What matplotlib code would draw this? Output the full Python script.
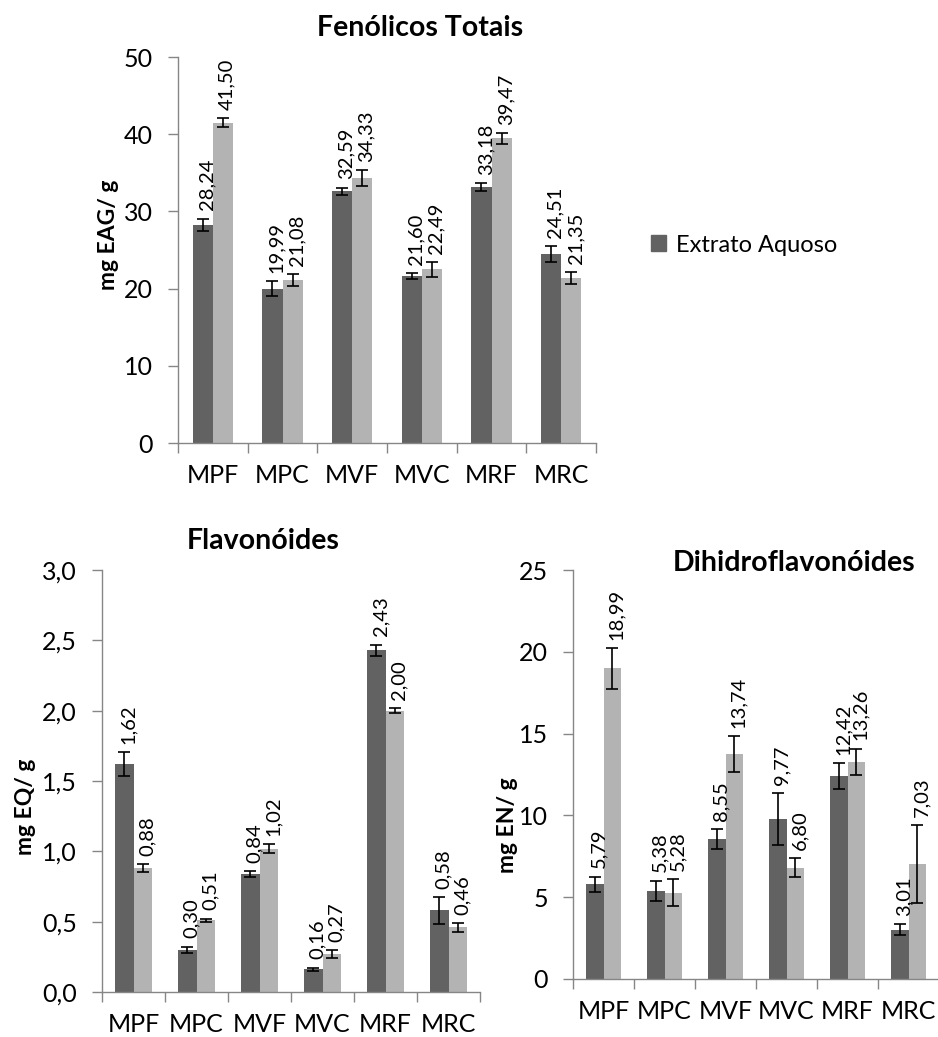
import numpy as np
import matplotlib
matplotlib.use('Agg')
import matplotlib.pyplot as plt
from matplotlib.patches import Patch
from matplotlib.ticker import FuncFormatter

plt.rcParams['font.family'] = ['Lato', 'DejaVu Sans']

# #
# Data
# #
categories = ['MPF', 'MPC', 'MVF', 'MVC', 'MRF', 'MRC']

fenolicos_dark = [28.24, 19.99, 32.59, 21.60, 33.18, 24.51]
fenolicos_dark_err = [0.8, 0.95, 0.5, 0.4, 0.5, 1.0]
fenolicos_light = [41.50, 21.08, 34.33, 22.49, 39.47, 21.35]
fenolicos_light_err = [0.55, 0.75, 1.0, 0.95, 0.7, 0.8]

flav_dark = [1.62, 0.30, 0.84, 0.16, 2.43, 0.58]
flav_dark_err = [0.083, 0.022, 0.02, 0.014, 0.04, 0.095]
flav_light = [0.88, 0.51, 1.02, 0.27, 2.00, 0.46]
flav_light_err = [0.03, 0.012, 0.03, 0.027, 0.02, 0.03]

dihidro_dark = [5.79, 5.38, 8.55, 9.77, 12.42, 3.01]
dihidro_dark_err = [0.47, 0.64, 0.59, 1.58, 0.79, 0.33]
dihidro_light = [18.99, 5.28, 13.74, 6.80, 13.26, 7.03]
dihidro_light_err = [1.24, 0.81, 1.09, 0.58, 0.82, 2.37]

DARK = '#626262'
LIGHT = '#b3b3b3'
AXIS = '#868686'

W, H = 938, 1037


def px_axes(fig, left, right, bottom, top):
    """Add axes from pixel coordinates (top-left origin)."""
    return fig.add_axes([left / W, 1 - bottom / H, (right - left) / W, (bottom - top) / H])


def comma(v):
    return f'{v:.2f}'.replace('.', ',')


def draw_panel(ax, dark, dark_err, light, light_err, ymax, ystep, yfmt,
               title, ylabel, title_xy, ylabel_xy):
    n = len(categories)
    x = np.arange(n)
    bw = 0.29
    ax.bar(x - bw / 2, dark, bw, color=DARK, zorder=2)
    ax.bar(x + bw / 2, light, bw, color=LIGHT, zorder=2)
    for xs, vals, errs in ((x - bw / 2, dark, dark_err), (x + bw / 2, light, light_err)):
        ax.errorbar(xs, vals, yerr=errs, fmt='none', ecolor='black',
                    elinewidth=1.2, capsize=4, capthick=1.2, zorder=3)
        for xi, v, e in zip(xs, vals, errs):
            ax.annotate(comma(v), (xi, v + e), xytext=(3, 6), textcoords='offset points',
                        rotation=90, ha='center', va='bottom', fontsize=14.5)

    ax.set_xlim(-0.5, n - 0.5)
    ax.set_ylim(0, ymax)
    ax.set_yticks(np.arange(0, ymax + ystep / 2, ystep))
    ax.yaxis.set_major_formatter(FuncFormatter(yfmt))
    ax.set_xticks(np.arange(-0.5, n, 1.0))
    ax.set_xticklabels([])
    ax.set_xticks(x, minor=True)
    ax.set_xticklabels(categories, minor=True)
    ax.tick_params(axis='x', which='major', length=7, color=AXIS, width=1, direction='out')
    ax.tick_params(axis='x', which='minor', length=0, pad=15, labelsize=18)
    ax.tick_params(axis='y', length=7, color=AXIS, width=1, pad=11, labelsize=18)
    for s in ('top', 'right'):
        ax.spines[s].set_visible(False)
    for s in ('left', 'bottom'):
        ax.spines[s].set_color(AXIS)
        ax.spines[s].set_linewidth(1)

    fig = ax.figure
    fig.text(title_xy[0] / W, 1 - title_xy[1] / H, title, ha='center', va='center',
             fontsize=20.5, fontweight='bold')
    fig.text(ylabel_xy[0] / W, 1 - ylabel_xy[1] / H, ylabel, rotation=90,
             ha='center', va='center', fontsize=16.5, fontweight='bold')


fig = plt.figure(figsize=(W / 100, H / 100), dpi=100)

ax1 = px_axes(fig, 178, 596, 443, 57)
draw_panel(ax1, fenolicos_dark, fenolicos_dark_err, fenolicos_light, fenolicos_light_err,
           50, 10, lambda v, p: f'{v:.0f}', 'Fenólicos Totais', 'mg EAG/ g',
           (420, 28), (108, 235))

ax2 = px_axes(fig, 102, 480, 992, 570)
draw_panel(ax2, flav_dark, flav_dark_err, flav_light, flav_light_err,
           3.0, 0.5, lambda v, p: f'{v:.1f}'.replace('.', ','), 'Flavonóides', 'mg EQ/ g',
           (263, 541), (25, 807))

ax3 = px_axes(fig, 573, 939, 979, 570)
draw_panel(ax3, dihidro_dark, dihidro_dark_err, dihidro_light, dihidro_light_err,
           25, 5, lambda v, p: f'{v:.0f}', 'Dihidroflavonóides', 'mg EN/ g',
           (794, 563), (507, 825))

fig.legend(handles=[Patch(color=DARK, label='Extrato Aquoso')],
           loc='center left', bbox_to_anchor=(651 / W, 1 - 245 / H),
           frameon=False, fontsize=17, handlelength=0.65, handleheight=0.65,
           handletextpad=0.4, borderpad=0, borderaxespad=0)

fig.savefig('out.png', dpi=100)
